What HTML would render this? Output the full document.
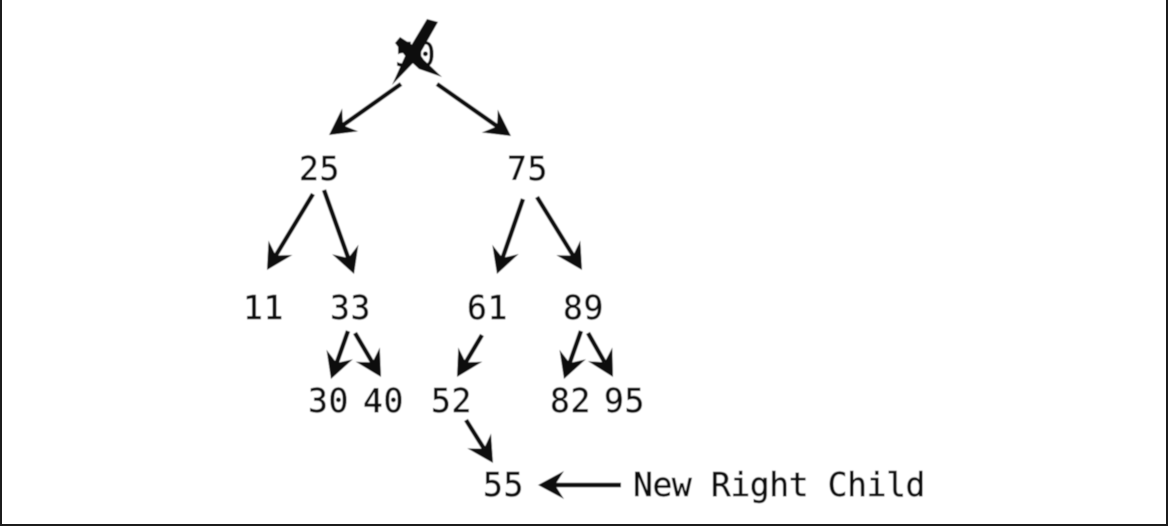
<!DOCTYPE html>
<html>
<head>
<meta charset="utf-8">
<title>Binary search tree with new right child</title>
<style>
html,body{margin:0;padding:0;background:#fff;}
body{width:1168px;height:526px;overflow:hidden;}
svg{display:block;}
text{font-family:"DejaVu Sans Mono","Liberation Mono",monospace;font-size:33px;letter-spacing:-0.4px;fill:#0c0c0c;stroke:#0c0c0c;stroke-width:0.45px;}
text.node{letter-spacing:0.6px;}
</style>
</head>
<body>
<svg id="diagram" width="1168" height="526" viewBox="0 0 1168 526" xmlns="http://www.w3.org/2000/svg">
  <defs>
    <filter id="soft" x="0" y="0" width="100%" height="100%" filterUnits="objectBoundingBox">
      <feGaussianBlur stdDeviation="0.55"/>
    </filter>
  </defs>
  <rect x="0" y="0" width="1168" height="526" fill="#fff"/>
  <g filter="url(#soft)">
    <rect x="0" y="0" width="1168" height="526" fill="#fff"/>
    <text class="node" x="395" y="66">50</text>
    <polygon points="427,19 438,22 417,59 392,85 406,54" fill="#0a0a0a"/>
    <polygon points="395,43 400,37 414,46 424,60 442,77 419,69 406,57" fill="#0a0a0a"/>

    <text class="node" x="299" y="180">25</text>
    <text class="node" x="507" y="180">75</text>
    <text class="node" x="243" y="319">11</text>
    <text class="node" x="330" y="319">33</text>
    <text class="node" x="467" y="319">61</text>
    <text class="node" x="563" y="319">89</text>
    <text class="node" x="308" y="412">30</text>
    <text class="node" x="363" y="412">40</text>
    <text class="node" x="431" y="412">52</text>
    <text class="node" x="550" y="412">82</text>
    <text class="node" x="604" y="412">95</text>
    <text class="node" x="483" y="496">55</text>
    <text x="633" y="496">New Right Child</text>
    <g id="arrows"></g>
  </g>
  <rect x="0" y="0" width="2" height="526" fill="#1c1c1c"/>
  <rect x="1166" y="0" width="2" height="526" fill="#1c1c1c"/>
  <rect x="0" y="524" width="1168" height="2" fill="#1c1c1c"/>
</svg>
<script>
var arrowNames = ['50-25','50-75','25-11','25-33','75-61','75-89','33-30','33-40','61-52','89-82','89-95','52-55','label-55'];
var tailX = [401,437,313,324,523,537,348,355,482,581,588,466,621];
var tailY = [84,84,194,190,199,197,331,333,335,331,333,420,485];
var tipX = [329,511,267,354,497,582,331,381,457,564,613,493,538];
var tipY = [135,136,270,274,274,270,379,377,377,379,377,463,485];
var headLen = 26, headHalf = 14, notch = 17;
var group = document.getElementById('arrows');
var ns = 'http://www.w3.org/2000/svg';
arrowNames.forEach(function (name, i) {
  var dx = tipX[i] - tailX[i], dy = tipY[i] - tailY[i];
  var len = Math.sqrt(dx * dx + dy * dy);
  var ux = dx / len, uy = dy / len;
  var nx = -uy, ny = ux;
  var line = document.createElementNS(ns, 'line');
  
  
  line.setAttribute('x1', tailX[i]);
  line.setAttribute('y1', tailY[i]);
  line.setAttribute('x2', tipX[i] - ux * notch);
  line.setAttribute('y2', tipY[i] - uy * notch);
  line.setAttribute('stroke', '#0a0a0a');
  line.setAttribute('stroke-width', '4.4');
  group.appendChild(line);
  var bx = tipX[i] - ux * headLen, by = tipY[i] - uy * headLen;
  var mx = tipX[i] - ux * notch, my = tipY[i] - uy * notch;
  var pts = [
    [tipX[i], tipY[i]],
    [bx + nx * headHalf, by + ny * headHalf],
    [mx, my],
    [bx - nx * headHalf, by - ny * headHalf]
  ].map(function (p) { return p[0].toFixed(1) + ',' + p[1].toFixed(1); }).join(' ');
  var head = document.createElementNS(ns, 'polygon');
  
  
  head.setAttribute('points', pts);
  head.setAttribute('fill', '#0a0a0a');
  group.appendChild(head);
});
</script>
</body>
</html>
